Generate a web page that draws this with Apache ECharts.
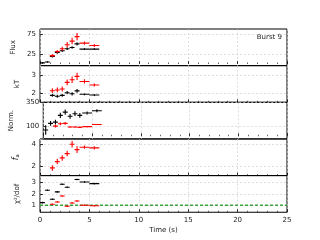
<!DOCTYPE html>
<html><head><meta charset="utf-8">
<script src="https://cdn.jsdelivr.net/npm/echarts@6/dist/echarts.min.js"></script>
<style>html,body{margin:0;padding:0;background:#fff}#c{width:320px;height:240px}</style>
</head><body><div id="c"></div>
<script>
// Time bins (s)
const timeCenters = [0.25, 0.75, 1.25, 1.75, 2.25, 2.75, 3.25, 3.75, 4.5, 5.5];
const timeHalfWidths = [0.25, 0.25, 0.25, 0.25, 0.25, 0.25, 0.25, 0.25, 0.5, 0.5];

// Flux
const fluxBlack = [3, 5, 19, 28.5, 33, 38, 41, 50, 37, 37];
const fluxBlackErr = [2, 2, 2.5, 3, 3, 3, 3, 4, 2, 2];
const fluxRed = [null, null, 21, 31, 38, 48, 57, 68, 52, 46];
const fluxRedErr = [null, null, 3, 4, 5, 7, 8, 9, 4, 4];

// kT
const ktBlack = [null, null, 1.88, 1.83, 1.88, 2.03, 1.97, 2.13, 1.94, 1.9];
const ktBlackErr = [null, null, 0.08, 0.08, 0.08, 0.09, 0.09, 0.1, 0.05, 0.05];
const ktRed = [null, null, 2.14, 2.18, 2.23, 2.6, 2.74, 2.93, 2.65, 2.45];
const ktRedErr = [null, null, 0.13, 0.13, 0.14, 0.16, 0.18, 0.2, 0.12, 0.08];

// Normalisation
const normBlack = [65, 134, 147, 218, 252, 208, 235, 218, 242, 266];
const normBlackErr = [50, 25, 25, 28, 28, 25, 25, 25, 15, 15];
const normRed = [null, null, 106, 130, 134, 96, 96, 93, 100, 123];
const normRedErr = [null, null, 15, 15, 15, 8, 8, 8, 6, 6];

// f_a
const faRed = [null, null, 1.82, 2.39, 2.73, 3.12, 3.97, 3.48, 3.7, 3.64];
const faRedErr = [null, null, 0.25, 0.25, 0.25, 0.25, 0.3, 0.3, 0.15, 0.15];

// reduced chi^2
const chiBlack = [1.23, 2.33, 1.53, 2.18, 2.86, 2.59, null, 3.27, 3.06, 2.91];
const chiRed = [null, null, 1.09, 1.29, 1.82, 0.91, 1.2, 1.38, 1.0, 0.96];
const chiErr = 0.07;
const chiRef = 1;

// axes
const xTicks = [0, 5, 10, 15, 20, 25];
const fluxTicks = [25, 75];
const ktTicks = [2, 3];
const normTicks = [100, 350];
const faTicks = [2, 4];
const chiTicks = [1, 2, 3];
const burstLabel = 'Burst 9';

function pts(vals, errs) {
  const out = [];
  for (let i = 0; i < timeCenters.length; i++) {
    if (vals[i] == null) continue;
    const e = Array.isArray(errs) ? errs[i] : errs;
    out.push([timeCenters[i], timeHalfWidths[i], vals[i], e]);
  }
  return out;
}

function errSeries(idx, data, color) {
  return {
    type: 'custom', xAxisIndex: idx, yAxisIndex: idx, data: data, clip: true, z: 5,
    renderItem: function (params, api) {
      const x = api.value(0), hw = api.value(1), y = api.value(2), e = api.value(3);
      const pL = api.coord([x - hw, y]), pR = api.coord([x + hw, y]);
      const pT = api.coord([x, y + e]), pB = api.coord([x, y - e]);
      const st = { stroke: color, lineWidth: 1.1 };
      return { type: 'group', children: [
        { type: 'line', shape: { x1: pL[0], y1: pL[1], x2: pR[0], y2: pR[1] }, style: st },
        { type: 'line', shape: { x1: pT[0], y1: pT[1], x2: pB[0], y2: pB[1] }, style: st }
      ]};
    }
  };
}

const L = 40, R = 33, T = 29, H = 36.65;
const font = 'DejaVu Sans';
const grids = [], xAxes = [], yAxes = [];
const yDefs = [
  { min: -4, max: 87, ticks: fluxTicks, name: 'Flux', gap: 17 },
  { min: 1.5, max: 3.52, ticks: ktTicks, name: 'kT', gap: 16 },
  { min: -28, max: 354, ticks: normTicks, name: 'Norm.', gap: 21 },
  { min: 1.12, max: 4.45, ticks: faTicks, name: '{i|f}{s|a}', gap: 15 },
  { min: 0.38, max: 3.62, ticks: chiTicks, name: 'χ²/dof', gap: 15 }
];
for (let i = 0; i < 5; i++) {
  grids.push({ left: L, right: R, top: T + i * H, height: H, show: true, borderColor: '#000', borderWidth: 1, backgroundColor: 'transparent' });
  xAxes.push({
    type: 'value', gridIndex: i, min: 0, max: 25, interval: 5,
    axisLine: { show: false },
    axisTick: { show: true, inside: true, length: 3, lineStyle: { color: '#000', width: 0.8 } },
    minorTick: { show: true, splitNumber: 5, length: 1.5, lineStyle: { color: '#000', width: 0.6 } },
    splitLine: { show: true, lineStyle: { color: '#d0d0d0', type: [2, 2], width: 0.7 } },
    axisLabel: { show: i === 4, fontSize: 7, color: '#222', fontFamily: font, margin: 4, customValues: xTicks },
    name: i === 4 ? 'Time (s)' : '', nameLocation: 'middle', nameGap: 14,
    nameTextStyle: { fontSize: 7, color: '#222', fontFamily: font }
  });
  const d = yDefs[i];
  yAxes.push({
    type: 'value', gridIndex: i, min: d.min, max: d.max,
    axisLine: { show: false },
    axisTick: { show: true, inside: true, length: 3, customValues: d.ticks, lineStyle: { color: '#000', width: 0.8 } },
    splitLine: { show: true, lineStyle: { color: '#d0d0d0', type: [2, 2], width: 0.7 } },
    axisLabel: { fontSize: 7, color: '#222', fontFamily: font, margin: 4, customValues: d.ticks, showMinLabel: true, showMaxLabel: true },
    name: d.name, nameLocation: 'middle', nameRotate: 90, nameGap: d.gap,
    nameTextStyle: { fontSize: 7, color: '#222', fontFamily: font,
      rich: { i: { fontSize: 8, fontStyle: 'italic', fontFamily: font, color: '#222' },
              s: { fontSize: 5.5, fontFamily: font, color: '#222', padding: [4, 0, 0, 0] } } }
  });
}

const series = [
  errSeries(0, pts(fluxBlack, fluxBlackErr), '#000'),
  errSeries(0, pts(fluxRed, fluxRedErr), '#ff0000'),
  errSeries(1, pts(ktBlack, ktBlackErr), '#000'),
  errSeries(1, pts(ktRed, ktRedErr), '#ff0000'),
  errSeries(2, pts(normBlack, normBlackErr), '#000'),
  errSeries(2, pts(normRed, normRedErr), '#ff0000'),
  errSeries(3, pts(faRed, faRedErr), '#ff0000'),
  errSeries(4, pts(chiBlack, chiErr), '#000'),
  errSeries(4, pts(chiRed, chiErr), '#ff0000'),
  { type: 'line', xAxisIndex: 4, yAxisIndex: 4, data: [[0, chiRef], [25, chiRef]], symbol: 'none',
    lineStyle: { color: '#3aa53a', width: 1.3, type: [3, 2] }, z: 3, silent: true }
];

const chart = echarts.init(document.getElementById('c'), null, { renderer: 'canvas' });
chart.setOption({
  animation: false,
  grid: grids, xAxis: xAxes, yAxis: yAxes, series: series,
  graphic: [{ type: 'text', right: 38, top: 34, style: { text: burstLabel, fontSize: 7, fill: '#222', fontFamily: font } }]
});
</script></body></html>
